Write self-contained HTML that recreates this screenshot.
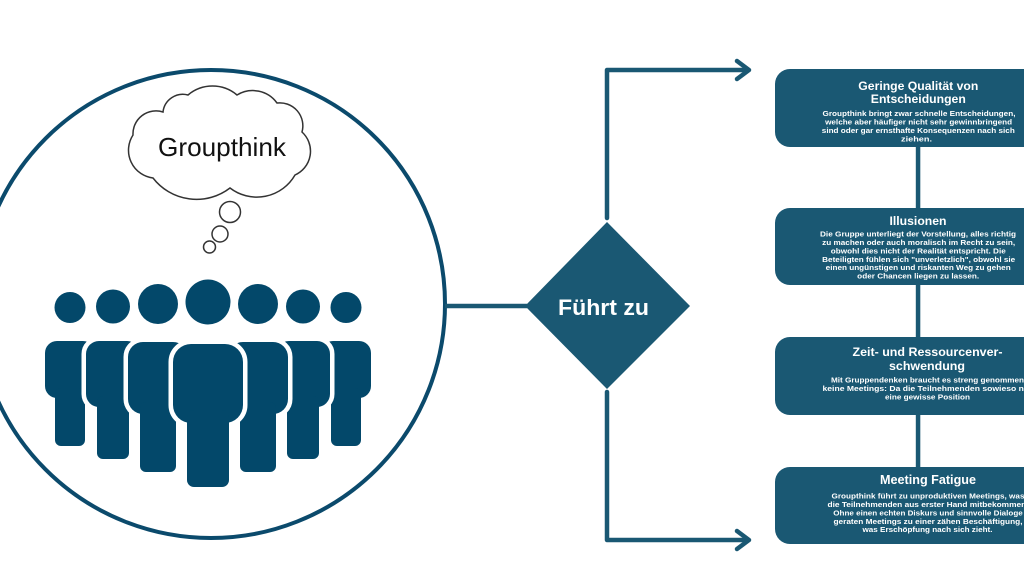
<!DOCTYPE html>
<html>
<head>
<meta charset="utf-8">
<style>
html,body{margin:0;padding:0;background:#fff;width:1024px;height:576px;overflow:hidden;}
svg{display:block;}
.t{font-family:"Liberation Sans",Arial,sans-serif;font-weight:bold;fill:#fff;}
</style>
</head>
<body>
<svg width="1024" height="576" viewBox="0 0 1024 576" xmlns="http://www.w3.org/2000/svg">
  <rect width="1024" height="576" fill="#fff"/>

  <!-- Big circle -->
  <circle cx="211" cy="304" r="234" fill="none" stroke="#0b4a6c" stroke-width="4"/>

  <!-- Cloud -->
  <path d="M133,135 A23,23 0 0 1 163,112 A20,20 0 0 1 188,95 A38,38 0 0 1 237,95 A30,30 0 0 1 277,103 A23,23 0 0 1 302,132 A26,26 0 0 1 295,175 A44,44 0 0 1 230,188 A55,55 0 0 1 153,178 A28,28 0 0 1 133,135 Z" fill="#fff" stroke="#333" stroke-width="1.5"/>
  <text x="222" y="156" font-family="Liberation Sans, Arial, sans-serif" font-size="26" fill="#111" text-anchor="middle" textLength="128" lengthAdjust="spacingAndGlyphs">Groupthink</text>
  <circle cx="230" cy="212" r="10.5" fill="#fff" stroke="#333" stroke-width="1.5"/>
  <circle cx="220" cy="234" r="8" fill="#fff" stroke="#333" stroke-width="1.5"/>
  <circle cx="209.5" cy="247" r="6" fill="#fff" stroke="#333" stroke-width="1.5"/>

  <!-- People: back to front. Each: white stroke layer then navy fill -->
  <defs>
    <!-- nothing -->
  </defs>
  <g id="people">
    <!-- P1 (cx 70) and P7 (cx 346) -->
    <g stroke="#fff" stroke-width="9" fill="#fff" stroke-linejoin="round">
      <circle cx="70" cy="307.5" r="15.5"/>
      <rect x="45" y="341" width="50" height="57" rx="12"/>
      <rect x="55" y="388" width="30" height="58" rx="6"/>
      <circle cx="346" cy="307.5" r="15.5"/>
      <rect x="321" y="341" width="50" height="57" rx="12"/>
      <rect x="331" y="388" width="30" height="58" rx="6"/>
    </g>
    <g fill="#03486a">
      <circle cx="70" cy="307.5" r="15.5"/>
      <rect x="45" y="341" width="50" height="57" rx="12"/>
      <rect x="55" y="388" width="30" height="58" rx="6"/>
      <circle cx="346" cy="307.5" r="15.5"/>
      <rect x="321" y="341" width="50" height="57" rx="12"/>
      <rect x="331" y="388" width="30" height="58" rx="6"/>
    </g>
    <!-- P2 (113) and P6 (303) -->
    <g stroke="#fff" stroke-width="9" fill="#fff" stroke-linejoin="round">
      <circle cx="113" cy="306.5" r="17"/>
      <rect x="86" y="341" width="54" height="66" rx="13"/>
      <rect x="97" y="396" width="32" height="63" rx="6"/>
      <circle cx="303" cy="306.5" r="17"/>
      <rect x="276" y="341" width="54" height="66" rx="13"/>
      <rect x="287" y="396" width="32" height="63" rx="6"/>
    </g>
    <g fill="#03486a">
      <circle cx="113" cy="306.5" r="17"/>
      <rect x="86" y="341" width="54" height="66" rx="13"/>
      <rect x="97" y="396" width="32" height="63" rx="6"/>
      <circle cx="303" cy="306.5" r="17"/>
      <rect x="276" y="341" width="54" height="66" rx="13"/>
      <rect x="287" y="396" width="32" height="63" rx="6"/>
    </g>
    <!-- P3 (158) and P5 (258) -->
    <g stroke="#fff" stroke-width="9" fill="#fff" stroke-linejoin="round">
      <circle cx="158" cy="304" r="20"/>
      <rect x="128" y="342" width="60" height="72" rx="15"/>
      <rect x="140" y="402" width="36" height="70" rx="6"/>
      <circle cx="258" cy="304" r="20"/>
      <rect x="228" y="342" width="60" height="72" rx="15"/>
      <rect x="240" y="402" width="36" height="70" rx="6"/>
    </g>
    <g fill="#03486a">
      <circle cx="158" cy="304" r="20"/>
      <rect x="128" y="342" width="60" height="72" rx="15"/>
      <rect x="140" y="402" width="36" height="70" rx="6"/>
      <circle cx="258" cy="304" r="20"/>
      <rect x="228" y="342" width="60" height="72" rx="15"/>
      <rect x="240" y="402" width="36" height="70" rx="6"/>
    </g>
    <!-- P4 center (208) -->
    <g stroke="#fff" stroke-width="9" fill="#fff" stroke-linejoin="round">
      <circle cx="208" cy="302" r="22.5"/>
      <rect x="173" y="344" width="70" height="79" rx="18"/>
      <rect x="187" y="410" width="42" height="77" rx="7"/>
    </g>
    <g fill="#03486a">
      <circle cx="208" cy="302" r="22.5"/>
      <rect x="173" y="344" width="70" height="79" rx="18"/>
      <rect x="187" y="410" width="42" height="77" rx="7"/>
    </g>
  </g>

  <!-- Connector circle -> diamond -->
  <line x1="445" y1="306" x2="527" y2="306" stroke="#1a5873" stroke-width="4.5"/>

  <!-- Diamond -->
  <polygon points="607,222 690,306 607,389 525,306" fill="#1a5873"/>
  <text x="603.5" y="315" font-family="Liberation Sans, Arial, sans-serif" font-weight="bold" font-size="22" fill="#fff" text-anchor="middle" textLength="91" lengthAdjust="spacingAndGlyphs">Führt zu</text>

  <!-- Arrows -->
  <g fill="none" stroke="#1a5873" stroke-width="4.5" stroke-linecap="round" stroke-linejoin="round">
    <polyline points="607,218 607,70 748,70"/>
    <polyline points="737,61 749,70 737,79"/>
    <polyline points="607,392 607,540 748,540"/>
    <polyline points="737,531 749,540 737,549"/>
  </g>

  <!-- Connectors between boxes -->
  <g fill="#1a5873">
    <rect x="915.8" y="140" width="4.5" height="75"/>
    <rect x="915.8" y="280" width="4.5" height="62"/>
    <rect x="915.8" y="410" width="4.5" height="62"/>
  </g>

  <!-- Boxes -->
  <g fill="#1a5873">
    <rect x="775" y="69" width="320" height="78" rx="15"/>
    <rect x="775" y="208" width="320" height="77" rx="15"/>
    <rect x="775" y="337" width="320" height="78" rx="15"/>
    <rect x="775" y="467" width="320" height="77" rx="15"/>
  </g>

  <!-- Box 1 text -->
  <g class="t" text-anchor="middle">
    <text x="918.3" y="90" font-size="12" textLength="120" lengthAdjust="spacingAndGlyphs">Geringe Qualität von</text>
    <text x="918.3" y="103" font-size="12" textLength="95" lengthAdjust="spacingAndGlyphs">Entscheidungen</text>
    <text x="919" y="115.8" font-size="7.6" textLength="193" lengthAdjust="spacingAndGlyphs">Groupthink bringt zwar schnelle Entscheidungen,</text>
    <text x="918.6" y="124.4" font-size="7.6" textLength="187" lengthAdjust="spacingAndGlyphs">welche aber häufiger nicht sehr gewinnbringend</text>
    <text x="918.3" y="133" font-size="7.6" textLength="193" lengthAdjust="spacingAndGlyphs">sind oder gar ernsthafte Konsequenzen nach sich</text>
    <text x="916.5" y="141.6" font-size="7.6" textLength="31" lengthAdjust="spacingAndGlyphs">ziehen.</text>
  </g>

  <!-- Box 2 text -->
  <g class="t" text-anchor="middle">
    <text x="918" y="225" font-size="12" textLength="57" lengthAdjust="spacingAndGlyphs">Illusionen</text>
    <text x="918" y="236.7" font-size="7.6" textLength="196" lengthAdjust="spacingAndGlyphs">Die Gruppe unterliegt der Vorstellung, alles richtig</text>
    <text x="918.7" y="245" font-size="7.6" textLength="193" lengthAdjust="spacingAndGlyphs">zu machen oder auch moralisch im Recht zu sein,</text>
    <text x="918.3" y="253.5" font-size="7.6" textLength="175" lengthAdjust="spacingAndGlyphs">obwohl dies nicht der Realität entspricht. Die</text>
    <text x="918.7" y="261.8" font-size="7.6" textLength="193" lengthAdjust="spacingAndGlyphs">Beteiligten fühlen sich "unverletzlich", obwohl sie</text>
    <text x="918.2" y="270.2" font-size="7.6" textLength="185" lengthAdjust="spacingAndGlyphs">einen ungünstigen und riskanten Weg zu gehen</text>
    <text x="918.2" y="278.6" font-size="7.6" textLength="122" lengthAdjust="spacingAndGlyphs">oder Chancen liegen zu lassen.</text>
  </g>

  <!-- Box 3 text -->
  <g class="t" text-anchor="middle">
    <text x="927.5" y="356" font-size="12" textLength="150" lengthAdjust="spacingAndGlyphs">Zeit- und Ressourcenver-</text>
    <text x="927" y="370" font-size="12" textLength="76" lengthAdjust="spacingAndGlyphs">schwendung</text>
    <text x="927.5" y="382.7" font-size="7.6" textLength="193" lengthAdjust="spacingAndGlyphs">Mit Gruppendenken braucht es streng genommen</text>
    <text x="927.5" y="391" font-size="7.6" textLength="210" lengthAdjust="spacingAndGlyphs">keine Meetings: Da die Teilnehmenden sowieso nur</text>
    <text x="927.5" y="399.5" font-size="7.6" textLength="85" lengthAdjust="spacingAndGlyphs">eine gewisse Position</text>
  </g>

  <!-- Box 4 text -->
  <g class="t" text-anchor="middle">
    <text x="928" y="484" font-size="12.5" textLength="96" lengthAdjust="spacingAndGlyphs">Meeting Fatigue</text>
    <text x="928" y="498.7" font-size="7.6" textLength="193" lengthAdjust="spacingAndGlyphs">Groupthink führt zu unproduktiven Meetings, was</text>
    <text x="928" y="507" font-size="7.6" textLength="201" lengthAdjust="spacingAndGlyphs">die Teilnehmenden aus erster Hand mitbekommen.</text>
    <text x="928" y="515.5" font-size="7.6" textLength="189.5" lengthAdjust="spacingAndGlyphs">Ohne einen echten Diskurs und sinnvolle Dialoge</text>
    <text x="928" y="523.8" font-size="7.6" textLength="189" lengthAdjust="spacingAndGlyphs">geraten Meetings zu einer zähen Beschäftigung,</text>
    <text x="927.5" y="532.2" font-size="7.6" textLength="130" lengthAdjust="spacingAndGlyphs">was Erschöpfung nach sich zieht.</text>
  </g>
</svg>
</body>
</html>
